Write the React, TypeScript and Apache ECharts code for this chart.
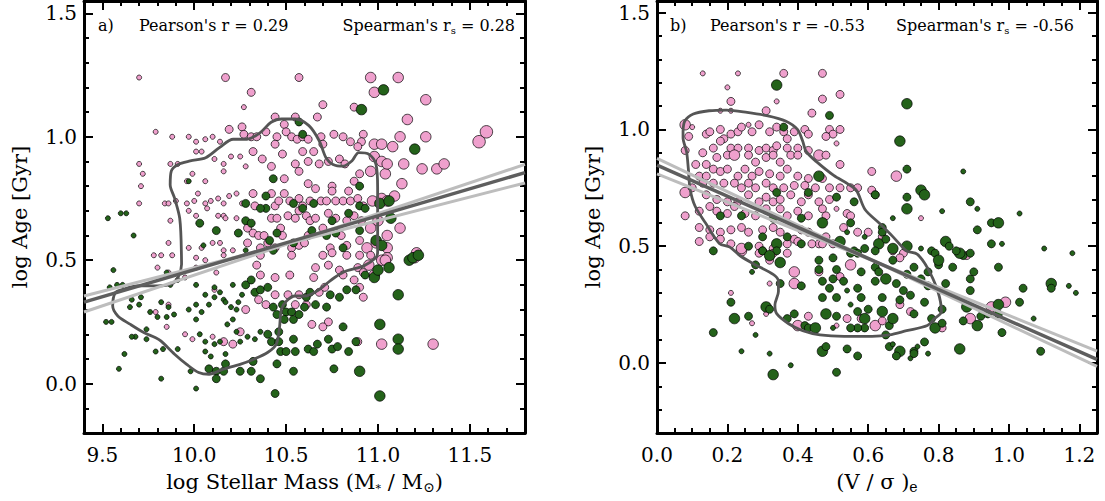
import React, { useEffect, useRef } from 'react';
import * as echarts from 'echarts';

const FONT = '"DejaVu Serif", "Liberation Serif", serif';
const PINK = '#EFA0CD';
const GREEN = '#24621A';

// axis ranges and tick labels
const massRange = [9.4, 11.8];
const vsRange = [0, 1.25];
const ageRangeA = [-0.2, 1.55];
const ageRangeB = [-0.3, 1.55];
const massTicks = [9.5, 10.0, 10.5, 11.0, 11.5];
const vsTicks = [0.0, 0.2, 0.4, 0.6, 0.8, 1.0, 1.2];
const ageTicks = [0.0, 0.5, 1.0, 1.5];
const massMinor = 0.1;
const vsMinor = 0.05;
const ageMinor = 0.1;

// symbol diameter per size class
const sizeClasses = [0, 5, 8, 10.5, 12.5];

// panel a: [log M*, log Age, size class]
const massPink = [
  [9.70,1.24,1],[10.17,1.24,2],[10.57,1.24,2],[10.96,1.24,3],[11.11,1.24,3],[10.31,1.18,2],[10.98,1.18,3],[11.26,1.15,3],
  [10.70,1.13,2],[10.27,1.12,1],[10.87,1.12,2],[11.16,1.07,3],[10.44,1.08,2],[10.55,1.08,2],[10.67,1.08,2],[9.79,1.02,1],
  [9.88,1.00,1],[9.97,1.00,1],[10.01,0.98,1],[10.06,0.99,1],[10.10,1.00,1],[10.14,0.98,1],[10.19,1.03,2],[10.26,1.04,2],
  [10.27,1.01,2],[10.31,1.00,2],[10.34,1.00,2],[10.39,1.02,2],[10.45,1.00,2],[10.49,1.05,2],[10.50,1.02,2],[10.53,1.00,2],
  [10.56,0.99,2],[10.59,1.00,2],[10.62,0.99,2],[10.69,1.00,2],[10.76,1.01,2],[10.81,1.00,2],[10.85,0.98,2],[10.92,1.01,2],
  [10.91,0.98,2],[10.98,0.97,3],[11.02,0.97,3],[11.08,0.96,3],[11.12,1.00,3],[11.26,1.00,3],[11.55,0.98,4],[11.59,1.02,4],
  [9.70,0.89,1],[9.72,0.85,1],[9.71,0.80,1],[9.70,0.73,1],[9.87,0.89,1],[9.91,0.89,1],[9.96,0.82,1],[9.99,0.85,1],
  [10.04,0.94,1],[10.01,0.94,1],[10.06,0.82,1],[10.11,0.91,1],[10.16,0.89,1],[10.16,0.86,1],[10.20,0.92,1],[10.25,0.92,1],
  [10.28,0.88,1],[10.32,0.94,2],[10.37,0.91,2],[10.42,0.88,2],[10.44,0.97,2],[10.48,0.93,2],[10.49,0.83,2],[10.55,0.89,2],
  [10.59,0.94,2],[10.57,0.86,2],[10.62,0.90,2],[10.65,0.94,2],[10.68,0.89,2],[10.70,0.97,2],[10.73,0.90,2],[10.75,0.80,2],
  [10.79,0.91,2],[10.82,0.89,2],[10.89,0.96,2],[10.90,0.85,2],[10.96,0.86,3],[10.98,0.92,3],[11.02,0.90,3],[11.04,0.85,3],
  [11.05,0.89,3],[11.14,0.89,3],[11.13,0.81,3],[11.24,0.87,3],[11.32,0.87,3],[11.36,0.89,3],
  [9.84,0.73,1],[9.86,0.73,1],[9.90,0.74,1],[9.96,0.73,1],[10.00,0.74,1],[10.02,0.77,1],[10.06,0.73,1],[10.09,0.74,1],
  [10.13,0.75,1],[10.16,0.73,1],[10.19,0.76,1],[10.23,0.77,1],[10.26,0.73,1],[10.32,0.77,2],[10.33,0.72,2],[10.42,0.77,2],
  [10.44,0.72,2],[10.46,0.74,2],[10.49,0.77,2],[10.52,0.74,2],[10.57,0.75,2],[10.59,0.72,2],[10.62,0.81,2],[10.63,0.74,2],
  [10.66,0.79,2],[10.69,0.74,2],[10.72,0.74,2],[10.75,0.78,2],[10.77,0.74,2],[10.81,0.74,2],[10.84,0.78,2],[10.85,0.74,2],
  [10.89,0.75,2],[10.92,0.72,2],[10.87,0.82,2],[10.97,0.74,3],[11.02,0.75,3],[11.05,0.74,3],[11.09,0.76,3],
  [9.87,0.66,1],[9.97,0.70,1],[10.01,0.68,1],[10.07,0.71,1],[10.13,0.68,1],[10.16,0.68,1],[10.17,0.67,1],[10.23,0.67,1],
  [10.29,0.63,2],[10.32,0.61,2],[10.35,0.60,2],[10.38,0.60,2],[10.42,0.67,2],[10.45,0.67,2],[10.47,0.63,2],[10.48,0.60,2],
  [10.51,0.68,2],[10.55,0.67,2],[10.57,0.70,2],[10.61,0.68,2],[10.63,0.66,2],[10.66,0.67,2],[10.62,0.60,2],[10.70,0.63,2],
  [10.73,0.69,2],[10.77,0.67,2],[10.80,0.60,2],[10.83,0.66,2],[10.87,0.68,2],[10.91,0.66,2],[10.96,0.63,3],[10.99,0.57,3],
  [11.00,0.66,3],[11.05,0.60,3],[11.12,0.63,3],
  [9.86,0.57,1],[9.97,0.55,1],[10.04,0.55,1],[10.10,0.57,1],[10.14,0.57,1],[10.16,0.54,1],[10.21,0.54,1],[10.29,0.57,2],
  [10.36,0.55,2],[10.40,0.57,2],[10.44,0.55,2],[10.53,0.55,2],[10.57,0.56,2],[10.60,0.57,2],[10.74,0.55,2],[10.83,0.56,2],
  [10.90,0.58,2],[10.94,0.55,3],[11.05,0.55,3],[11.21,0.53,3],
  [9.78,0.52,1],[9.82,0.52,1],[9.88,0.52,1],[10.01,0.51,1],[10.06,0.50,1],[10.16,0.52,1],[10.34,0.48,2],[10.36,0.52,2],
  [10.53,0.52,2],[10.70,0.52,2],[10.75,0.53,2],[10.83,0.52,2],[10.90,0.52,2],[10.96,0.52,2],[11.02,0.50,3],[10.95,0.48,3],
  [11.05,0.51,3],[9.80,0.47,1],[9.86,0.45,1],[9.95,0.43,1],[10.01,0.47,1],[10.12,0.45,1],[10.11,0.38,1],[10.36,0.44,2],
  [10.44,0.43,2],[10.52,0.44,2],[10.66,0.47,2],[10.65,0.43,2],[10.73,0.48,2],[10.79,0.46,2],[10.89,0.47,2],[10.92,0.45,2],
  [10.98,0.44,3],[11.04,0.50,3],[11.20,0.51,3],[9.86,0.32,1],[9.79,0.29,1],[9.85,0.23,1],[9.95,0.20,1],[9.99,0.18,1],
  [10.10,0.19,1],[10.25,0.21,2],[10.21,0.16,2],[10.16,0.17,2],[10.28,0.30,2],[10.35,0.34,2],[10.39,0.32,2],[10.44,0.36,2],
  [10.51,0.36,2],[10.57,0.36,2],[10.55,0.32,2],[10.61,0.32,2],[10.68,0.37,2],[10.71,0.39,2],[10.64,0.24,2],[10.73,0.25,2],
  [10.70,0.23,2],[10.89,0.17,2],[11.02,0.16,3],[11.30,0.16,3],[10.90,0.39,2],[10.92,0.35,2],[10.81,0.44,2],[10.87,0.42,2],
];

const massGreen = [
  [11.03,1.19,3],[10.91,1.11,3],[10.57,1.06,2],[10.59,1.01,2],[11.20,0.95,3],[9.97,0.82,1],[10.43,0.83,2],[10.90,0.80,2],
  [9.53,0.67,1],[9.63,0.69,1],[9.60,0.69,1],[9.67,0.60,1],[10.03,0.65,2],[10.12,0.62,2],[10.28,0.73,2],[10.39,0.76,2],
  [10.28,0.66,2],[10.31,0.65,2],[10.24,0.61,2],[10.39,0.71,2],[10.36,0.71,2],[10.45,0.61,2],[10.54,0.73,2],[10.59,0.71,2],
  [10.65,0.73,2],[10.75,0.66,2],[10.64,0.62,2],[10.54,0.57,2],[10.41,0.58,2],[10.84,0.69,2],[10.90,0.72,2],[10.93,0.71,2],
  [11.01,0.73,3],[11.06,0.74,3],[11.07,0.67,3],[10.90,0.62,2],[10.99,0.58,3],[11.02,0.56,3],[10.81,0.55,2],[10.72,0.60,2],
  [10.05,0.56,1],[10.28,0.54,1],[10.43,0.54,2],[10.77,0.61,2],
  [9.56,0.46,1],[9.61,0.40,1],[9.58,0.40,1],[9.54,0.39,1],[9.66,0.34,1],[9.70,0.32,1],[9.65,0.31,1],[9.71,0.35,1],
  [9.76,0.29,1],[9.82,0.33,1],[9.86,0.31,1],[9.89,0.28,1],[9.85,0.27,1],[9.80,0.27,1],[9.74,0.22,1],[9.74,0.18,1],
  [9.68,0.19,1],[9.52,0.25,1],[9.55,0.25,1],[9.62,0.12,1],[9.79,0.13,1],[9.83,0.14,1],[9.91,0.14,1],[9.85,0.45,1],
  [9.87,0.40,1],[9.91,0.42,1],[9.97,0.30,1],[10.01,0.40,1],[10.01,0.32,1],[10.04,0.29,1],[10.06,0.36,1],[10.08,0.32,1],
  [10.11,0.39,1],[10.11,0.35,1],[10.14,0.37,1],[10.16,0.34,1],[10.17,0.33,1],[10.20,0.31,1],[10.23,0.30,1],[10.24,0.33,1],
  [10.26,0.36,1],[10.21,0.40,1],[10.28,0.40,2],[10.31,0.42,2],[10.33,0.37,2],[10.36,0.38,2],[10.40,0.39,2],[10.43,0.31,2],
  [10.45,0.28,2],[10.48,0.32,2],[10.50,0.29,2],[10.53,0.29,2],[10.49,0.26,2],[10.54,0.26,2],[10.57,0.28,2],[10.60,0.31,2],
  [10.61,0.35,2],[10.63,0.37,2],[10.66,0.32,2],[10.72,0.31,2],[10.74,0.36,2],[10.79,0.35,2],[10.83,0.38,2],[10.88,0.38,2],
  [10.93,0.44,2],[10.98,0.43,3],[11.00,0.46,3],[11.06,0.47,3],[11.11,0.36,3],[11.17,0.50,3],[11.19,0.51,3],[11.22,0.52,3],
  [10.01,0.26,1],[10.03,0.20,1],[10.06,0.17,1],[10.11,0.16,1],[10.06,0.13,1],[10.14,0.17,1],[10.18,0.24,1],[10.17,0.12,1],
  [10.21,0.26,1],[10.23,0.21,1],[10.25,0.17,1],[10.29,0.19,1],[10.33,0.18,1],[10.36,0.21,1],[10.40,0.20,2],[10.42,0.17,2],
  [10.46,0.17,2],[10.46,0.21,2],[10.47,0.13,2],[10.50,0.13,2],[10.45,0.08,2],[10.54,0.18,2],[10.54,0.05,2],[10.62,0.14,2],
  [10.65,0.13,2],[10.67,0.16,2],[10.73,0.18,2],[10.75,0.14,2],[10.78,0.15,2],[10.84,0.13,2],[10.81,0.23,2],[10.88,0.17,2],
  [11.01,0.24,3],[11.11,0.18,3],[11.11,0.14,3],[10.90,0.05,3],[10.76,0.06,2],[10.36,0.02,2],[10.44,-0.04,2],[11.01,-0.05,3],
  [10.01,-0.02,1],[10.08,0.06,2],[10.12,0.05,2],[10.16,0.05,2],[10.12,0.02,2],[10.25,0.05,2],[10.31,0.05,2],[10.09,0.11,1],
  [9.98,0.05,1],[9.59,0.06,1],[9.82,0.02,1],[9.66,0.19,1],[10.55,0.13,2],[10.32,0.09,2],[10.17,0.08,2],
];

// panel b: [(V/sigma)_e, log Age, size class]
const vsPink = [
  [0.13,1.24,1],[0.23,1.24,1],[0.36,1.24,2],[0.47,1.24,2],[0.20,1.18,1],[0.34,1.12,1],[0.47,1.13,2],[0.52,1.15,2],
  [0.21,1.12,2],[0.31,1.08,2],[0.18,1.08,1],[0.44,1.07,2],[0.21,1.08,1],[0.08,1.02,3],[0.09,0.97,2],[0.10,1.01,1],
  [0.14,0.98,2],[0.15,0.99,2],[0.18,1.00,2],[0.19,0.96,2],[0.21,0.98,2],[0.23,0.99,2],[0.24,1.01,2],[0.26,1.02,1],
  [0.27,0.99,2],[0.29,1.02,2],[0.32,0.99,2],[0.34,1.01,2],[0.36,0.99,2],[0.37,0.96,2],[0.39,0.99,2],[0.42,1.00,2],
  [0.43,0.98,2],[0.49,1.00,2],[0.50,0.98,2],[0.52,1.00,2],[0.48,0.97,2],[0.51,0.94,1],[0.18,0.95,2],[0.16,0.92,2],
  [0.21,0.92,2],[0.23,0.92,2],[0.26,0.92,2],[0.29,0.91,2],[0.31,0.92,2],[0.33,0.91,2],[0.34,0.93,2],[0.37,0.92,2],
  [0.40,0.92,2],[0.43,0.91,2],[0.08,0.91,2],[0.13,0.90,2],[0.14,0.85,2],[0.17,0.88,2],[0.20,0.89,2],[0.22,0.89,3],
  [0.26,0.89,2],[0.28,0.86,2],[0.31,0.88,2],[0.33,0.89,2],[0.35,0.86,2],[0.38,0.89,2],[0.40,0.89,2],[0.46,0.89,3],
  [0.48,0.89,2],[0.11,0.85,2],[0.12,0.80,2],[0.14,0.80,2],[0.16,0.83,2],[0.18,0.82,2],[0.20,0.83,2],[0.23,0.80,2],
  [0.25,0.83,2],[0.27,0.80,2],[0.29,0.82,2],[0.32,0.81,2],[0.35,0.80,2],[0.37,0.83,2],[0.40,0.80,2],[0.43,0.79,2],
  [0.47,0.79,2],[0.52,0.85,2],[0.61,0.82,2],[0.68,0.80,3],[0.08,0.73,3],[0.10,0.75,2],[0.13,0.77,2],[0.16,0.77,2],
  [0.19,0.77,2],[0.22,0.77,2],[0.24,0.75,2],[0.26,0.77,2],[0.28,0.75,2],[0.31,0.77,2],[0.33,0.75,2],[0.36,0.75,2],
  [0.39,0.76,2],[0.42,0.76,2],[0.45,0.75,2],[0.49,0.75,2],[0.52,0.75,2],[0.55,0.75,2],[0.57,0.75,2],[0.61,0.74,2],
  [0.62,0.72,2],[0.14,0.72,2],[0.17,0.70,2],[0.20,0.69,2],[0.23,0.69,2],[0.26,0.72,2],[0.29,0.69,2],[0.31,0.71,2],
  [0.33,0.69,2],[0.35,0.70,2],[0.38,0.72,2],[0.41,0.69,2],[0.43,0.72,2],[0.46,0.69,2],[0.49,0.70,2],[0.08,0.63,2],
  [0.12,0.65,2],[0.15,0.67,2],[0.17,0.65,2],[0.20,0.64,2],[0.22,0.67,2],[0.25,0.64,2],[0.28,0.63,2],[0.31,0.66,2],
  [0.35,0.66,2],[0.37,0.63,2],[0.40,0.65,2],[0.43,0.63,2],[0.47,0.66,2],[0.48,0.63,2],[0.51,0.66,1],[0.54,0.64,2],
  [0.55,0.63,2],[0.75,0.62,1],[0.12,0.58,2],[0.15,0.57,2],[0.18,0.56,2],[0.21,0.57,2],[0.24,0.58,2],[0.26,0.56,2],
  [0.30,0.57,2],[0.33,0.58,2],[0.35,0.56,2],[0.39,0.53,2],[0.41,0.57,2],[0.43,0.56,2],[0.46,0.51,2],[0.48,0.54,2],
  [0.53,0.58,2],[0.57,0.56,2],[0.12,0.52,2],[0.15,0.54,2],[0.18,0.53,2],[0.21,0.51,2],[0.24,0.48,3],[0.29,0.50,2],
  [0.33,0.49,2],[0.37,0.51,2],[0.40,0.52,2],[0.44,0.51,2],[0.47,0.51,2],[0.50,0.51,2],[0.60,0.56,2],[0.64,0.54,2],
  [0.24,0.49,3],[0.32,0.44,2],[0.39,0.39,3],[0.46,0.39,2],[0.55,0.42,3],[0.52,0.37,2],[0.33,0.47,2],[0.29,0.47,2],
  [0.37,0.47,2],[0.21,0.30,1],[0.32,0.34,1],[0.39,0.34,3],[0.31,0.21,1],[0.27,0.17,1],[0.40,0.16,3],[0.43,0.20,2],
  [0.51,0.16,1],[0.54,0.19,2],[0.58,0.19,2],[0.62,0.16,3],[0.64,0.18,2],[0.69,0.25,2],[0.72,0.22,2],[0.88,0.46,2],
  [0.95,0.24,3],[0.99,0.26,3],[0.89,0.19,3],[0.81,0.15,2],[0.67,0.48,2],[0.70,0.47,2],[0.69,0.45,2],
];

const vsGreen = [
  [0.34,1.19,3],[0.71,1.11,3],[0.49,1.06,2],[0.36,1.01,2],[0.69,0.95,3],[0.71,0.83,2],[0.87,0.82,1],[0.46,0.80,3],
  [0.75,0.74,3],[0.76,0.72,3],[0.71,0.71,2],[0.62,0.72,2],[0.34,0.73,2],[0.43,0.73,2],[0.51,0.71,2],[0.56,0.69,2],
  [0.89,0.69,2],[0.91,0.66,1],[0.81,0.65,1],[0.71,0.66,3],[0.67,0.62,1],[1.03,0.64,1],[0.24,0.63,2],[0.18,0.63,2],
  [0.33,0.62,2],[0.41,0.62,2],[0.47,0.60,3],[0.55,0.60,2],[0.64,0.58,2],[0.95,0.60,2],[0.97,0.60,3],[0.91,0.57,2],
  [1.10,0.49,1],[1.18,0.47,1],[0.54,0.56,1],[0.59,0.54,1],[0.64,0.56,2],[0.63,0.51,3],[0.65,0.53,2],[0.67,0.49,3],
  [0.82,0.52,3],[0.83,0.50,2],[0.95,0.51,2],[0.98,0.51,1],[0.71,0.50,3],[0.78,0.48,2],[0.26,0.50,2],[0.30,0.54,2],
  [0.34,0.51,3],[0.37,0.54,2],[0.41,0.51,2],[0.52,0.52,3],[0.56,0.48,2],[0.59,0.49,2],[0.62,0.48,2],[0.57,0.47,2],
  [0.16,0.48,2],[0.30,0.48,2],[0.34,0.48,2],[0.75,0.49,1],[0.87,0.46,2],
  [0.16,0.13,2],[0.21,0.26,2],[0.22,0.19,3],[0.26,0.20,2],[0.24,0.05,1],[0.27,0.39,1],[0.28,0.42,2],[0.30,0.48,2],
  [0.32,0.46,3],[0.32,0.04,1],[0.33,-0.05,3],[0.38,-0.01,1],[0.28,0.12,1],[0.31,0.24,3],[0.32,0.23,2],[0.35,0.34,2],
  [0.35,0.43,3],[0.37,0.19,2],[0.39,0.21,2],[0.41,0.33,2],[0.42,0.16,2],[0.43,0.15,2],[0.45,0.15,3],[0.46,0.44,2],
  [0.46,0.40,2],[0.47,0.35,2],[0.47,0.28,2],[0.48,0.21,3],[0.49,0.32,2],[0.50,0.45,2],[0.50,0.36,2],[0.51,0.28,2],
  [0.51,0.20,2],[0.50,0.15,1],[0.51,0.40,2],[0.53,0.35,2],[0.54,0.31,1],[0.55,0.47,2],[0.55,0.25,1],[0.57,0.32,2],
  [0.58,0.39,2],[0.58,0.28,2],[0.59,0.19,3],[0.59,0.15,2],[0.60,0.23,2],[0.62,0.41,2],[0.62,0.35,2],[0.63,0.39,2],
  [0.64,0.22,3],[0.64,0.28,2],[0.65,0.36,3],[0.66,0.16,2],[0.67,0.19,2],[0.67,0.44,2],[0.68,0.34,2],[0.69,0.27,2],
  [0.70,0.31,2],[0.71,0.38,2],[0.72,0.29,2],[0.73,0.41,2],[0.73,0.21,2],[0.75,0.36,2],[0.76,0.26,2],[0.77,0.39,2],
  [0.77,0.33,2],[0.78,0.19,2],[0.79,0.15,3],[0.79,0.47,2],[0.80,0.42,2],[0.81,0.23,2],[0.81,0.17,2],[0.82,0.34,2],
  [0.73,0.05,2],[0.76,0.09,2],[0.74,0.07,1],[0.77,0.04,1],[0.80,0.44,3],[0.87,0.18,2],[0.88,0.24,3],[0.89,0.31,2],
  [0.89,0.36,2],[0.89,0.47,2],[0.86,0.47,3],[0.86,0.06,3],[0.90,0.39,2],[0.91,0.16,3],[0.92,0.20,2],[0.94,0.21,2],
  [0.97,0.25,3],[0.97,0.21,2],[0.98,0.13,2],[1.03,0.26,2],[1.04,0.32,2],[1.07,0.19,1],[1.09,0.05,2],[1.12,0.34,3],
  [1.12,0.32,2],[1.17,0.33,1],[1.19,0.30,1],[0.97,0.41,2],[0.85,0.48,2],[0.84,0.41,2],[0.47,0.05,3],[0.48,0.07,2],
  [0.54,0.06,2],[0.57,0.03,2],[0.51,-0.04,2],[0.66,0.07,2],[0.67,0.08,1],[0.69,0.05,3],[0.68,0.03,2],[0.72,0.02,1],
  [0.73,0.04,2],[0.67,0.19,3],[0.65,0.12,2],[0.57,0.15,2],[0.57,0.22,2],[0.55,0.15,2],
];

// density contours
const massContour = [
  [9.93,0.533],[9.921,0.669],[9.893,0.751],[9.869,0.806],[9.875,0.861],[9.912,0.888],[9.978,0.902],[10.062,0.915],
  [10.137,0.956],[10.212,0.99],[10.287,0.99],[10.361,1.018],[10.418,1.059],[10.474,1.072],[10.549,1.072],[10.624,1.045],
  [10.68,0.984],[10.717,0.915],[10.755,0.888],[10.811,0.881],[10.858,0.902],[10.895,0.936],[10.951,0.929],[10.989,0.888],
  [10.998,0.792],[10.998,0.669],[10.998,0.533],[10.989,0.511],[10.923,0.477],[10.83,0.457],[10.764,0.43],[10.717,0.403],
  [10.67,0.376],[10.605,0.355],[10.549,0.355],[10.502,0.335],[10.474,0.301],[10.464,0.227],[10.446,0.159],[10.399,0.126],
  [10.324,0.099],[10.249,0.078],[10.155,0.058],[10.081,0.038],[10.024,0.045],[9.959,0.078],[9.893,0.119],[9.818,0.173],
  [9.79,0.186],[9.725,0.207],[9.65,0.241],[9.584,0.274],[9.556,0.315],[9.571,0.369],[9.612,0.382],[9.687,0.396],
  [9.8,0.396],[9.875,0.403],[9.912,0.43],[9.931,0.484],
];
const vsContour = [
  [0.074,0.993],[0.079,1.036],[0.103,1.066],[0.148,1.08],[0.197,1.083],[0.256,1.073],[0.315,1.058],[0.365,1.036],
  [0.399,1.0],[0.414,0.949],[0.424,0.905],[0.453,0.862],[0.502,0.803],[0.542,0.767],[0.567,0.738],[0.591,0.657],
  [0.631,0.599],[0.67,0.541],[0.709,0.48],[0.739,0.466],[0.768,0.408],[0.798,0.306],[0.808,0.219],[0.788,0.19],
  [0.768,0.16],[0.709,0.138],[0.66,0.12],[0.611,0.114],[0.532,0.114],[0.463,0.12],[0.414,0.138],[0.374,0.168],
  [0.34,0.211],[0.335,0.248],[0.345,0.306],[0.345,0.35],[0.33,0.379],[0.276,0.423],[0.236,0.459],[0.207,0.496],
  [0.177,0.512],[0.138,0.599],[0.108,0.672],[0.094,0.745],[0.089,0.832],[0.084,0.905],[0.074,0.964],
];

// linear fits (end points) and their bootstrap envelopes
const massFitX = [9.4, 11.8];
const massFitMid = [0.33, 0.855];
const massFitSteep = [0.29, 0.888];
const massFitShallow = [0.355, 0.813];
const vsFitX = [0, 1.25];
const vsFitMid = [0.847, 0.015];
const vsFitSteep = [0.876, -0.015];
const vsFitShallow = [0.81, 0.051];

const corrLabels = {
  a: { tag: 'a)', pearson: "Pearson's r = 0.29", spearman: "Spearman's r{s|s} = 0.28" },
  b: { tag: 'b)', pearson: "Pearson's r = -0.53", spearman: "Spearman's r{s|s} = -0.56" },
};

function xAxesFor(grid, range, majors, minor, name) {
  const base = { type: 'value', gridIndex: grid, min: range[0], max: range[1], splitLine: { show: false } };
  const tickStyle = { color: '#000', width: 2 };
  const major = (pos, label) => ({
    ...base, position: pos,
    axisLine: { show: true, onZero: false, lineStyle: { color: '#000', width: 3 } },
    axisTick: { show: true, inside: true, length: 9, lineStyle: tickStyle, customValues: majors },
    axisLabel: label
      ? { show: true, customValues: majors, formatter: (v) => Number(v).toFixed(1), margin: 12, fontSize: 20, fontFamily: FONT, color: '#000' }
      : { show: false },
    ...(label ? name : {}),
  });
  const minorAx = (pos) => ({
    ...base, position: pos, interval: minor,
    axisLine: { show: false, onZero: false },
    axisTick: { show: true, inside: true, length: 5, lineStyle: tickStyle },
    axisLabel: { show: false },
  });
  return [major('bottom', true), minorAx('bottom'), major('top', false), minorAx('top')];
}

function yAxesFor(grid, range, majors, minor, name) {
  const base = { type: 'value', gridIndex: grid, min: range[0], max: range[1], splitLine: { show: false } };
  const tickStyle = { color: '#000', width: 2 };
  const major = (pos, label) => ({
    ...base, position: pos,
    axisLine: { show: true, onZero: false, lineStyle: { color: '#000', width: 3 } },
    axisTick: { show: true, inside: true, length: 9, lineStyle: tickStyle, customValues: majors },
    axisLabel: label
      ? { show: true, customValues: majors, formatter: (v) => Number(v).toFixed(1), margin: 7, fontSize: 20, fontFamily: FONT, color: '#000' }
      : { show: false },
    ...(label ? name : {}),
  });
  const minorAx = (pos) => ({
    ...base, position: pos, interval: minor,
    axisLine: { show: false, onZero: false },
    axisTick: { show: true, inside: true, length: 5, lineStyle: tickStyle },
    axisLabel: { show: false },
  });
  return [major('left', true), minorAx('left'), major('right', false), minorAx('right')];
}

const nameStyle = (rich) => ({
  fontFamily: FONT, fontSize: 21, color: '#000', lineHeight: 24, rich,
});

const subRich = {
  st: { fontFamily: FONT, fontSize: 11, color: '#000', verticalAlign: 'bottom', lineHeight: 10 },
  sun: { fontFamily: FONT, fontSize: 14, color: '#000', verticalAlign: 'bottom', lineHeight: 10 },
  e: { fontFamily: FONT, fontSize: 14, color: '#000', verticalAlign: 'bottom', lineHeight: 10 },
};

const ageName = {
  name: 'log Age [Gyr]', nameLocation: 'middle', nameGap: 52, nameTextStyle: nameStyle(subRich),
};

function scatter(data, color, xi, z) {
  return {
    type: 'scatter', xAxisIndex: xi, yAxisIndex: xi, data, z,
    symbolSize: (v) => sizeClasses[v[2]],
    itemStyle: { color, borderColor: '#000', borderWidth: 0.7, opacity: 1 },
    silent: true,
  };
}

function line(xs, ys, color, width, xi, z) {
  return {
    type: 'line', xAxisIndex: xi, yAxisIndex: xi, z, silent: true,
    data: xs.map((x, i) => [x, ys[i]]), symbol: 'none',
    lineStyle: { color, width },
  };
}

function contour(points, xi) {
  return {
    type: 'line', xAxisIndex: xi, yAxisIndex: xi, z: 4, silent: true,
    data: [...points, points[0]], symbol: 'none', smooth: 0.3,
    lineStyle: { color: '#555555', width: 2.8 },
  };
}

function annText(x, text, align) {
  return {
    type: 'text', x, y: 25, z: 100,
    style: {
      text, fill: '#000', fontFamily: FONT, fontSize: 16, lineHeight: 20,
      align, verticalAlign: 'middle',
      rich: { s: { fontFamily: FONT, fontSize: 10, fill: '#000', verticalAlign: 'bottom', lineHeight: 8 } },
    },
  };
}

export default function App() {
  const ref = useRef(null);
  useEffect(() => {
    const chart = echarts.init(ref.current, null, { renderer: 'svg' });
    const option = {
      animation: false,
      backgroundColor: '#fff',
      textStyle: { fontFamily: FONT },
      grid: [
        { left: 84, top: 1, width: 441, height: 432 },
        { left: 657, top: 1, width: 440, height: 432 },
      ],
      xAxis: [
        ...xAxesFor(0, massRange, massTicks, massMinor, {
          name: 'log Stellar Mass (M{st|*} / M{sun|⊙})', nameLocation: 'middle', nameGap: 32,
          nameTextStyle: nameStyle(subRich),
        }),
        ...xAxesFor(1, vsRange, vsTicks, vsMinor, {
          name: '(V / σ ){e|e}', nameLocation: 'middle', nameGap: 32,
          nameTextStyle: nameStyle(subRich),
        }),
      ],
      yAxis: [
        ...yAxesFor(0, ageRangeA, ageTicks, ageMinor, ageName),
        ...yAxesFor(1, ageRangeB, ageTicks, ageMinor, ageName),
      ],
      series: [
        scatter(massPink, PINK, 0, 2),
        scatter(massGreen, GREEN, 0, 2),
        contour(massContour, 0),
        line(massFitX, massFitSteep, '#bdbdbd', 3, 0, 5),
        line(massFitX, massFitShallow, '#bdbdbd', 3, 0, 5),
        line(massFitX, massFitMid, '#5e5e5e', 3.5, 0, 6),
        scatter(vsPink, PINK, 4, 2),
        scatter(vsGreen, GREEN, 4, 2),
        contour(vsContour, 4),
        line(vsFitX, vsFitSteep, '#bdbdbd', 3, 4, 5),
        line(vsFitX, vsFitShallow, '#bdbdbd', 3, 4, 5),
        line(vsFitX, vsFitMid, '#5e5e5e', 3.5, 4, 6),
      ],
      graphic: [
        annText(98, corrLabels.a.tag, 'left'),
        annText(139, corrLabels.a.pearson, 'left'),
        annText(515, corrLabels.a.spearman, 'right'),
        annText(670, corrLabels.b.tag, 'left'),
        annText(710, corrLabels.b.pearson, 'left'),
        annText(1074, corrLabels.b.spearman, 'right'),
      ],
    };
    chart.setOption(option);
    return () => chart.dispose();
  }, []);
  return (
    <div
      ref={ref}
      style={{ position: 'fixed', left: 0, top: 0, width: 1105, height: 501, background: '#fff' }}
    />
  );
}
